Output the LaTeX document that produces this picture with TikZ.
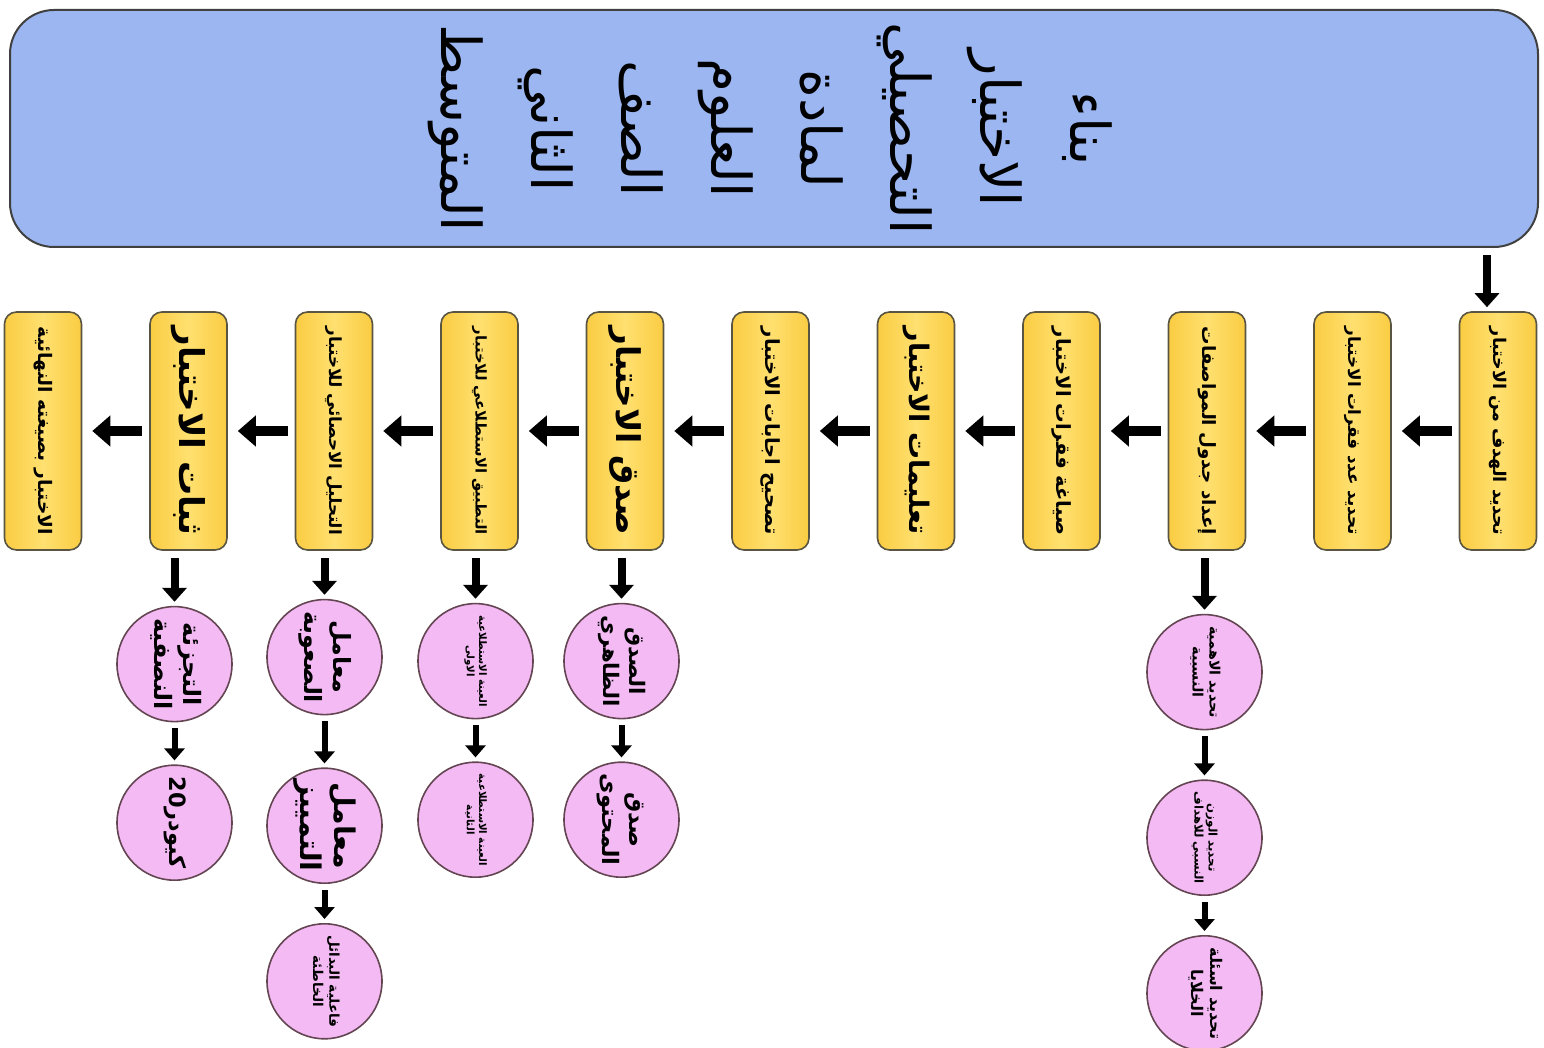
\documentclass[tikz,border=0pt]{standalone}
\usepackage{fontspec}
\usepackage{graphicx}
\newfontfamily\arabicfont[Script=Arabic]{DejaVu Sans}
\TeXXeTstate=1
\usetikzlibrary{arrows.meta,positioning}
\definecolor{ttlblue}{RGB}{155,182,240}
\definecolor{stepyel}{RGB}{255,224,112}
\definecolor{stepedge}{RGB}{250,204,66}
\definecolor{subpink}{RGB}{243,186,243}
\newcommand{\rl}[1]{\beginR #1\endR}
\newcommand{\steptxt}[1]{\rotatebox{-90}{\resizebox{104pt}{!}{\arabicfont\bfseries\rl{#1}}}}
\newcommand{\subtxt}[1]{\rotatebox{-90}{\resizebox{46pt}{!}{\arabicfont\bfseries\begin{tabular}{@{}c@{}}#1\end{tabular}}}}

\begin{document}
\begin{tikzpicture}[x=1pt,y=1pt,
  ttl/.style={draw=black!75,line width=1pt,rounded corners=22pt,fill=ttlblue,minimum width=764pt,minimum height=118.5pt,inner sep=0pt},
  stepbox/.style={draw=black!75!yellow,line width=0.8pt,rounded corners=6pt,left color=stepedge,right color=stepedge,middle color=stepyel,minimum width=38.5pt,minimum height=119pt,inner sep=0pt},
  sub/.style={draw=black!70!magenta,line width=0.8pt,circle,fill=subpink,minimum size=57.5pt,inner sep=0pt},
  har/.style={-{Triangle[length=9pt,width=15pt]},line width=5pt,shorten <=3.5pt,shorten >=5pt},
  var/.style={-{Triangle[length=7pt,width=12pt]},line width=4pt,shorten <=3.5pt,shorten >=2pt},
  sar/.style={-{Triangle[length=6pt,width=10pt]},line width=3pt,shorten <=3pt,shorten >=2pt}
]
\useasboundingbox (0,0) rectangle (772,-524);

% ---- title ----
\node[ttl] (title) at (387,-64.25) {\rotatebox{-90}{\arabicfont\fontsize{27.5}{45}\selectfont
  \begin{tabular}{@{}c@{}}\rl{بناء}\\\rl{الاختبار}\\\rl{التحصيلي}\\\rl{لمادة}\\\rl{العلوم}\\\rl{الصف}\\\rl{الثاني}\\\rl{المتوسط}\end{tabular}}};

% ---- steps : right to left ----
\node[stepbox] (s1) at (749,-215.5) {\steptxt{تحديد الهدف من الاختبار}};
\node[stepbox,left=33.45pt of s1] (s2) {\steptxt{تحديد عدد فقرات الاختبار}};
\node[stepbox,left=33.45pt of s2] (s3) {\steptxt{إعداد جدول المواصفات}};
\node[stepbox,left=33.45pt of s3] (s4) {\steptxt{صياغة فقرات الاختبار}};
\node[stepbox,left=33.45pt of s4] (s5) {\steptxt{تعليمات الاختبار}};
\node[stepbox,left=33.45pt of s5] (s6) {\steptxt{تصحيح اجابات الاختبار}};
\node[stepbox,left=33.45pt of s6] (s7) {\steptxt{صدق الاختبار}};
\node[stepbox,left=33.45pt of s7] (s8) {\steptxt{التطبيق الاستطلاعي للاختبار}};
\node[stepbox,left=33.45pt of s8] (s9) {\steptxt{التحليل الاحصائي للاختبار}};
\node[stepbox,left=33.45pt of s9] (s10) {\steptxt{ثبات الاختبار}};
\node[stepbox,left=33.45pt of s10] (s11) {\steptxt{الاختبار بصيغته النهائية}};

% ---- sub steps ----
\node[sub,below=31.5pt of s3,xshift=-1.25pt] (c31) {\subtxt{\rl{تحديد الاهمية}\\\rl{النسبية}}};
\node[sub,below=24.5pt of c31] (c32) {\subtxt{\rl{تحديد الوزن}\\\rl{النسبي للاهداف}}};
\node[sub,below=19.5pt of c32] (c33) {\subtxt{\rl{تحديد اسئلة}\\\rl{الخلايا}}};

\node[sub,below=26pt of s7,xshift=-1.75pt] (c71) {\subtxt{\rl{الصدق}\\\rl{الظاهري}}};
\node[sub,below=21pt of c71] (c72) {\subtxt{\rl{صدق}\\\rl{المحتوى}}};

\node[sub,below=26pt of s8,xshift=-2pt] (c81) {\subtxt{\rl{العينة الاستطلاعية}\\\rl{الاولى}}};
\node[sub,below=21pt of c81] (c82) {\subtxt{\rl{العينة الاستطلاعية}\\\rl{الثانية}}};

\node[sub,below=24pt of s9,xshift=-4.75pt] (c91) {\subtxt{\rl{معامل}\\\rl{الصعوبة}}};
\node[sub,below=26pt of c91] (c92) {\subtxt{\rl{معامل}\\\rl{التمييز}}};
\node[sub,below=19.5pt of c92] (c93) {\subtxt{\rl{فاعلية البدائل}\\\rl{الخاطئة}}};

\node[sub,below=27.5pt of s10,xshift=-7pt] (c101) {\subtxt{\rl{التجزئة}\\\rl{النصفية}}};
\node[sub,below=21pt of c101] (c102) {\subtxt{\rl{كيودر\beginL20\endL}}};

% arrows
\draw[var] ([xshift=-5.5pt]title.south -| s1.north) -- ([xshift=-5.5pt]s1.north);
\draw[har] (s1) -- (s2); \draw[har] (s2) -- (s3); \draw[har] (s3) -- (s4);
\draw[har] (s4) -- (s5); \draw[har] (s5) -- (s6); \draw[har] (s6) -- (s7);
\draw[har] (s7) -- (s8); \draw[har] (s8) -- (s9); \draw[har] (s9) -- (s10);
\draw[har] (s10) -- (s11);

\draw[var] (s3.south -| c31) -- (c31); \draw[sar] (c31) -- (c32); \draw[sar] (c32) -- (c33);
\draw[var] (s7.south -| c71) -- (c71); \draw[sar] (c71) -- (c72);
\draw[var] (s8.south -| c81) -- (c81); \draw[sar] (c81) -- (c82);
\draw[var] (s9.south -| c91) -- (c91); \draw[sar] (c91) -- (c92); \draw[sar] (c92) -- (c93);
\draw[var] (s10.south -| c101) -- (c101); \draw[sar] (c101) -- (c102);
\end{tikzpicture}
\end{document}
